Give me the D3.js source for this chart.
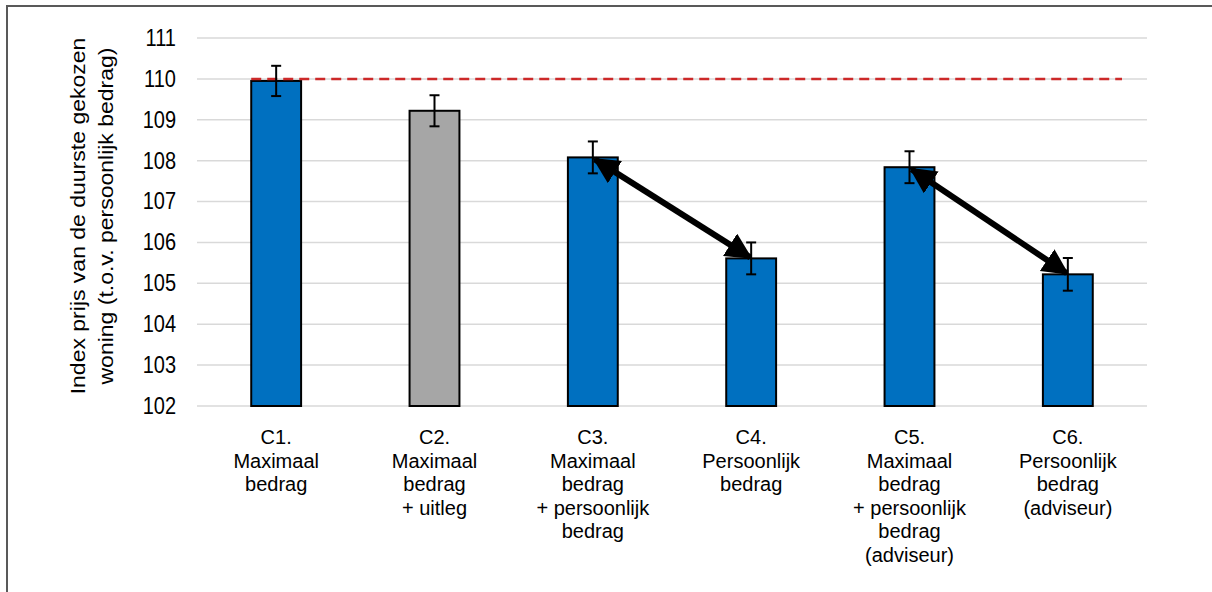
<!DOCTYPE html>
<html><head><meta charset="utf-8">
<script src="https://cdn.jsdelivr.net/npm/d3@7"></script>
<style>html,body{margin:0;padding:0;background:#fff;}svg{display:block;font-family:"Liberation Sans",Arial,sans-serif;}</style>
</head><body>
<svg id="c" width="1212" height="592"></svg>
<script>
const categories = ["C1","C2","C3","C4","C5","C6"];
const categoryLabels = [
  ["C1.","Maximaal","bedrag"],
  ["C2.","Maximaal","bedrag","+ uitleg"],
  ["C3.","Maximaal","bedrag","+ persoonlijk","bedrag"],
  ["C4.","Persoonlijk","bedrag"],
  ["C5.","Maximaal","bedrag","+ persoonlijk","bedrag","(adviseur)"],
  ["C6.","Persoonlijk","bedrag","(adviseur)"]
];
const values = [109.95, 109.22, 108.08, 105.61, 107.84, 105.22];
const errors = [0.37, 0.38, 0.39, 0.39, 0.39, 0.40];
const barColors = ["#0070C0","#A6A6A6","#0070C0","#0070C0","#0070C0","#0070C0"];
const yTicks = [102,103,104,105,106,107,108,109,110,111];
const referenceValue = 110;
const arrows = [["C3","C4"],["C5","C6"]];
const yTitle = ["Index prijs van de duurste gekozen","woning (t.o.v. persoonlijk bedrag)"];

const svg = d3.select("#c");
const x = d3.scaleBand().domain(categories).range([197,1147]).paddingInner(0.685).paddingOuter(0.3425);
const y = d3.scaleLinear().domain([102,111]).range([406,38]);
const stretch = 1.15;

// frame
svg.append("path").attr("d","M7,592 L7,6 L1212,6").attr("fill","none").attr("stroke","#595959").attr("stroke-width",2);

// gridlines
svg.append("g").selectAll("line").data(yTicks).join("line")
  .attr("x1",197).attr("x2",1147).attr("y1",d=>y(d)).attr("y2",d=>y(d))
  .attr("stroke","#d9d9d9").attr("stroke-width",1.5);

// y axis labels
const yAxis = d3.axisLeft(y).tickValues(yTicks).tickSize(0).tickPadding(0).tickFormat(d3.format("d"));
const ga = svg.append("g").attr("transform","translate(176,0)").call(yAxis);
ga.select(".domain").remove();
ga.selectAll("text").attr("font-size",20).attr("fill","#000").attr("font-family","Liberation Sans, Arial, sans-serif")
  .attr("transform",`scale(1,${stretch})`);

// y title
const yt = svg.append("text").attr("transform",`translate(85,216) rotate(-90) scale(${stretch},1)`).attr("text-anchor","middle").attr("font-size",20).attr("fill","#000");
yt.selectAll("tspan").data(yTitle).join("tspan").attr("x",0).attr("dy",(d,i)=>i===0?"0":"28").text(d=>d);

// bars
svg.append("g").selectAll("rect").data(categories).join("rect")
  .attr("x",d=>x(d)).attr("width",x.bandwidth())
  .attr("y",(d,i)=>y(values[i])).attr("height",(d,i)=>y(102)-y(values[i]))
  .attr("fill",(d,i)=>barColors[i]).attr("stroke","#000").attr("stroke-width",2);

// reference dashed line
svg.append("line").attr("x1",x("C1")).attr("x2",1122).attr("y1",y(referenceValue)).attr("y2",y(referenceValue))
  .attr("stroke","#CC2929").attr("stroke-width",2.5).attr("stroke-dasharray","10,6");

// error bars
const eb = svg.append("g").attr("stroke","#000").attr("stroke-width",2);
categories.forEach((c,i)=>{
  const cx = x(c)+x.bandwidth()/2;
  eb.append("line").attr("x1",cx).attr("x2",cx).attr("y1",y(values[i]+errors[i])).attr("y2",y(values[i]-errors[i]));
  eb.append("line").attr("x1",cx-5).attr("x2",cx+5).attr("y1",y(values[i]+errors[i])).attr("y2",y(values[i]+errors[i]));
  eb.append("line").attr("x1",cx-5).attr("x2",cx+5).attr("y1",y(values[i]-errors[i])).attr("y2",y(values[i]-errors[i]));
});

// arrows
const defs = svg.append("defs");
defs.append("marker").attr("id","ah").attr("viewBox","0 0 10 10").attr("refX",9).attr("refY",5)
  .attr("markerWidth",4.4).attr("markerHeight",4.4).attr("orient","auto-start-reverse").attr("markerUnits","strokeWidth")
  .append("path").attr("d","M0,0 L10,5 L0,10 z").attr("fill","#000");
arrows.forEach(([a,b])=>{
  const ia = categories.indexOf(a), ib = categories.indexOf(b);
  const x1 = x(a)+x.bandwidth()/2, y1 = y(values[ia]);
  const x2 = x(b)+x.bandwidth()/2, y2 = y(values[ib]);
  svg.append("line").attr("x1",x1+2).attr("y1",y1+2).attr("x2",x2-1).attr("y2",y2-1)
    .attr("stroke","#000").attr("stroke-width",6)
    .attr("marker-start","url(#ah)").attr("marker-end","url(#ah)");
});

// x labels
const xl = svg.append("g");
categories.forEach((c,i)=>{
  const t = xl.append("text").attr("text-anchor","middle").attr("font-size",20).attr("fill","#000")
    .attr("transform",`translate(${x(c)+x.bandwidth()/2},444)`);
  t.selectAll("tspan").data(categoryLabels[i]).join("tspan").attr("x",0).attr("dy",(d,j)=>j===0?0:23.5).text(d=>d);
});
</script>
</body></html>
